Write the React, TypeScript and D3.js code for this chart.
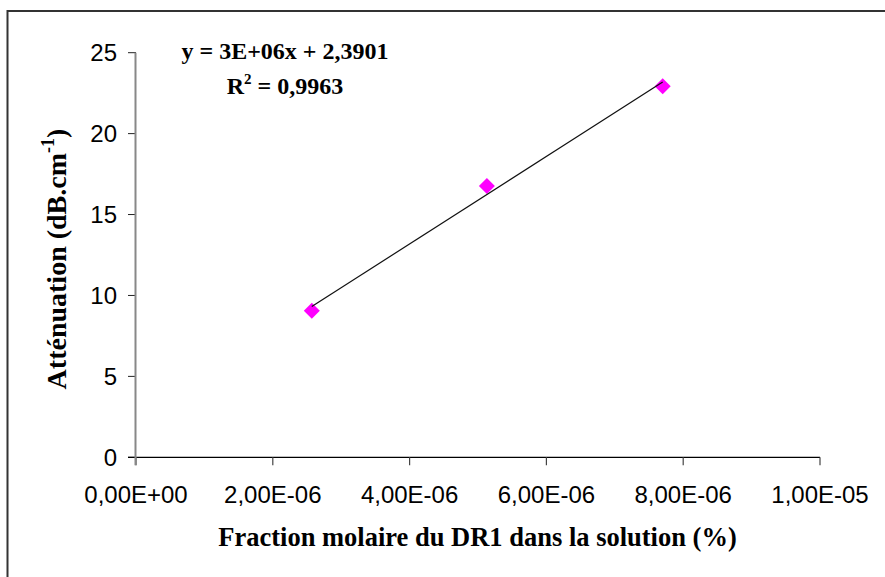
import React from "react";
import * as d3 from "d3";

const xValues = [2.57e-6, 5.13e-6, 7.7e-6];
const yValues = [9.05, 16.77, 22.92];
const xTicks = [0, 2e-6, 4e-6, 6e-6, 8e-6, 1e-5];
const xTickLabels = ["0,00E+00", "2,00E-06", "4,00E-06", "6,00E-06", "8,00E-06", "1,00E-05"];
const yTicks = [0, 5, 10, 15, 20, 25];
const equationLine1 = "y = 3E+06x + 2,3901";
const equationLine2Prefix = "R";
const equationLine2Sup = "2";
const equationLine2Suffix = " = 0,9963";
const xTitle = "Fraction molaire du DR1 dans la solution (%)";
const yTitleMain = "Atténuation (dB.cm";
const yTitleSup = "-1";
const yTitleEnd = ")";

const W = 885;
const H = 577;

export default function App() {
  const x = d3.scaleLinear().domain([0, 1e-5]).range([136, 820]);
  const y = d3.scaleLinear().domain([0, 25]).range([457.3, 52.7]);

  const pts = xValues.map((v, i) => ({ x: v, y: yValues[i] }));
  const mx = d3.mean(xValues) as number;
  const my = d3.mean(yValues) as number;
  let sxy = 0;
  let sxx = 0;
  pts.forEach((p) => {
    sxy += (p.x - mx) * (p.y - my);
    sxx += (p.x - mx) * (p.x - mx);
  });
  const slope = sxy / sxx;
  const intercept = my - slope * mx;
  const xmin = d3.min(xValues) as number;
  const xmax = d3.max(xValues) as number;
  const trend = [
    { x: xmin, y: intercept + slope * xmin },
    { x: xmax, y: intercept + slope * xmax },
  ];
  const lineGen = d3
    .line<{ x: number; y: number }>()
    .x((d) => x(d.x))
    .y((d) => y(d.y));

  const diamond = d3.symbol().type(d3.symbolSquare).size(128)() as string;

  const sans = "'Liberation Sans', Arial, sans-serif";
  const serif = "'Liberation Serif', 'Times New Roman', serif";

  return (
    <svg
      width={W}
      height={H}
      style={{ position: "absolute", left: 0, top: 0, background: "#fff", display: "block" }}
    >
      <rect x={0} y={0} width={W} height={H} fill="#fff" />
      <rect x={7.5} y={11} width={W + 20} height={H + 20} fill="none" stroke="#333" strokeWidth={2} />

      {/* y ticks */}
      {yTicks.map((t) => (
        <g key={"yt" + t}>
          <line x1={128} x2={136} y1={y(t)} y2={y(t)} stroke="#222" strokeWidth={1} />
          <text
            x={117}
            y={y(t) + 8.6}
            textAnchor="end"
            fontFamily={sans}
            fontSize={24}
            fill="#000"
          >
            {t}
          </text>
        </g>
      ))}

      {/* x axis */}
      <line x1={128} x2={x(1e-5)} y1={y(0)} y2={y(0)} stroke="#000" strokeWidth={1.2} />
      {xTicks.map((t, i) => (
        <g key={"xt" + i}>
          <line x1={x(t)} x2={x(t)} y1={y(0)} y2={y(0) + 8} stroke="#444" strokeWidth={1.2} />
          <text
            x={x(t)}
            y={502.5}
            textAnchor="middle"
            fontFamily={sans}
            fontSize={24}
            fill="#000"
          >
            {xTickLabels[i]}
          </text>
        </g>
      ))}

      {/* y axis */}
      <line x1={135.5} x2={135.5} y1={y(25)} y2={y(0) + 8} stroke="#888" strokeWidth={2} />

      {/* markers */}
      {pts.map((p, i) => (
        <path
          key={"pt" + i}
          d={diamond}
          transform={`translate(${x(p.x)},${y(p.y)}) rotate(45)`}
          fill="#ff00ff"
        />
      ))}

      {/* trendline */}
      <path d={lineGen(trend) as string} fill="none" stroke="#111" strokeWidth={1.2} />

      {/* equation */}
      <text
        x={285}
        y={58.5}
        textAnchor="middle"
        fontFamily={serif}
        fontWeight="bold"
        fontSize={24}
        fill="#000"
      >
        {equationLine1}
      </text>
      <text
        x={285}
        y={93.5}
        textAnchor="middle"
        fontFamily={serif}
        fontWeight="bold"
        fontSize={24}
        fill="#000"
      >
        {equationLine2Prefix}
        <tspan fontSize={15} dy={-10}>
          {equationLine2Sup}
        </tspan>
        <tspan dy={10}>{equationLine2Suffix}</tspan>
      </text>

      {/* axis titles */}
      <text
        x={477.5}
        y={546}
        textAnchor="middle"
        fontFamily={serif}
        fontWeight="bold"
        fontSize={26.5}
        fill="#000"
      >
        {xTitle}
      </text>
      <text
        transform={`translate(65.5,259) rotate(-90)`}
        textAnchor="middle"
        fontFamily={serif}
        fontWeight="bold"
        fontSize={28}
        fill="#000"
      >
        {yTitleMain}
        <tspan fontSize={18} dy={-12}>
          {yTitleSup}
        </tspan>
        <tspan dy={12}>{yTitleEnd}</tspan>
      </text>
    </svg>
  );
}
